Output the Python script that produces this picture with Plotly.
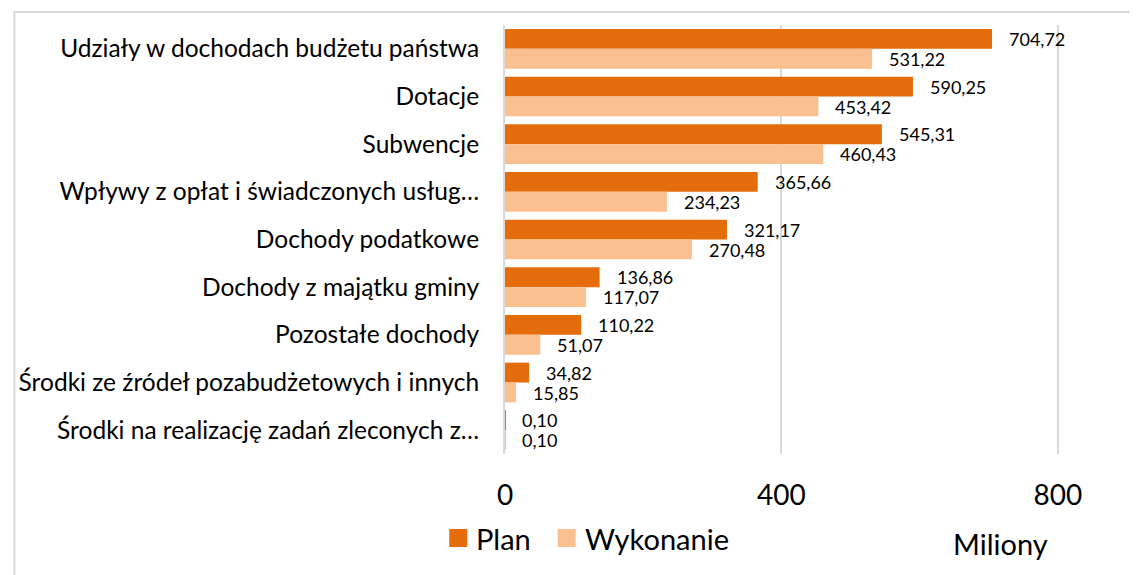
import plotly.graph_objects as go

categories = [
    "Udziały w dochodach budżetu państwa",
    "Dotacje",
    "Subwencje",
    "Wpływy z opłat i świadczonych usług…",
    "Dochody podatkowe",
    "Dochody z majątku gminy",
    "Pozostałe dochody",
    "Środki ze źródeł pozabudżetowych i innych",
    "Środki na realizację zadań zleconych z…",
]
plan = [704.72, 590.25, 545.31, 365.66, 321.17, 136.86, 110.22, 34.82, 0.10]
wykonanie = [531.22, 453.42, 460.43, 234.23, 270.48, 117.07, 51.07, 15.85, 0.10]
series_names = ["Plan", "Wykonanie"]
x_ticks = [0, 400, 800]

C_PLAN = "#E46C0A"
C_WYK = "#FAC090"
FONT = "Lato"

OFF = 8  # page body margin
W, H = 1138 - OFF, 575 - OFF
L, R = 502 - OFF, 1127 - OFF
T, B = 25 - OFF, 454 - OFF
XMAX = 900


def px2x(px):
    return (px - OFF - L) / (R - L)


def py2y(py):
    return (B - (py - OFF)) / (B - T)


def fmt(v):
    return f"{v:.2f}".replace(".", ",")


fig = go.Figure()
fig.add_trace(go.Bar(y=categories, x=plan, name=series_names[0], orientation="h",
                     marker=dict(color=C_PLAN, line=dict(width=0)), showlegend=False))
fig.add_trace(go.Bar(y=categories, x=wykonanie, name=series_names[1], orientation="h",
                     marker=dict(color=C_WYK, line=dict(width=0)), showlegend=False))

annotations = []
for c, v in zip(categories, plan):
    annotations.append(dict(x=v, y=c, xref="x", yref="y", text=fmt(v), showarrow=False,
                            xanchor="left", yanchor="middle", xshift=15, yshift=10,
                            font=dict(family=FONT, size=18, color="#000000")))
for c, v in zip(categories, wykonanie):
    annotations.append(dict(x=v, y=c, xref="x", yref="y", text=fmt(v), showarrow=False,
                            xanchor="left", yanchor="middle", xshift=15, yshift=-10,
                            font=dict(family=FONT, size=18, color="#000000")))

# Display unit label
annotations.append(dict(x=px2x(1000), y=py2y(543), xref="paper", yref="paper", text="Miliony",
                        showarrow=False, xanchor="center", yanchor="middle",
                        font=dict(family=FONT, size=29, color="#000000")))
# Manual legend
annotations.append(dict(x=px2x(471), y=py2y(538), xref="paper", yref="paper", text=series_names[0],
                        showarrow=False, xanchor="left", yanchor="middle",
                        font=dict(family=FONT, size=29, color="#000000")))
annotations.append(dict(x=px2x(580), y=py2y(538), xref="paper", yref="paper", text=series_names[1],
                        showarrow=False, xanchor="left", yanchor="middle",
                        font=dict(family=FONT, size=29, color="#000000")))

shapes = [
    dict(type="rect", xref="paper", yref="paper", x0=px2x(446), x1=px2x(464),
         y0=py2y(547), y1=py2y(529), fillcolor=C_PLAN, line=dict(width=0)),
    dict(type="rect", xref="paper", yref="paper", x0=px2x(555), x1=px2x(573),
         y0=py2y(547), y1=py2y(529), fillcolor=C_WYK, line=dict(width=0)),
    dict(type="rect", xref="paper", yref="paper", x0=px2x(9), x1=px2x(1160),
         y0=py2y(600), y1=py2y(12), fillcolor="rgba(0,0,0,0)",
         line=dict(color="#d9d9d9", width=2), layer="below"),
]

fig.update_layout(
    width=W, height=H,
    margin=dict(l=L, r=W - R, t=T, b=H - B, pad=0),
    barmode="group", bargap=0.168, bargroupgap=0,
    plot_bgcolor="white", paper_bgcolor="white",
    font=dict(family=FONT, color="#000000"),
    annotations=annotations, shapes=shapes,
    showlegend=False,
)
fig.update_xaxes(range=[0, XMAX], tickvals=x_ticks, ticktext=[str(t) for t in x_ticks],
                 showgrid=True, gridcolor="#d9d9d9", gridwidth=2, zeroline=False,
                 showline=False, ticks="", ticklabelstandoff=22,
                 tickfont=dict(family=FONT, size=28, color="#000000"), fixedrange=True)
fig.update_yaxes(autorange="reversed", showgrid=False, zeroline=False,
                 showline=True, linecolor="#d9d9d9", linewidth=2, ticks="",
                 ticklabelstandoff=19,
                 tickfont=dict(family=FONT, size=24.5, color="#000000"), fixedrange=True)

fig.write_html("out.html")
